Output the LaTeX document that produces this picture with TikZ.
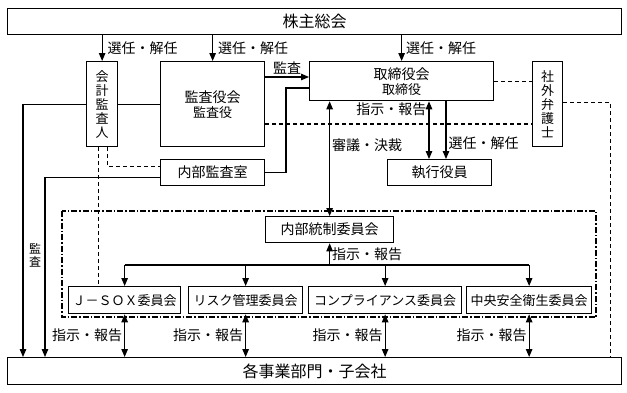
\documentclass[tikz,border=0pt]{standalone}
\usepackage{fontspec}
\setmainfont{Noto Sans CJK JP}
\usetikzlibrary{arrows.meta,positioning,calc}

\begin{document}
\begin{tikzpicture}[x=1pt, y=-1pt,
  box/.style={draw, line width=1.3pt, inner sep=0pt, anchor=north west,
    align=center, font=\fontsize{14}{15}\selectfont},
  vbox/.style={box, font=\fontsize{13}{14}\selectfont},
  cbox/.style={box, font=\fontsize{13}{15}\selectfont},
  conn/.style={line width=1.1pt},
  arr/.style={conn, -{Triangle[length=8pt,width=6.5pt]}},
  darr/.style={conn, {Triangle[length=8pt,width=6.5pt]}-{Triangle[length=8pt,width=6.5pt]}},
  dsh/.style={conn, dash pattern=on 4pt off 3pt},
  frame/.style={line width=1.1pt, dash pattern=on 6pt off 2pt on 1.5pt off 2pt},
  lbl/.style={inner sep=2pt, font=\fontsize{14}{15}\selectfont},
]
  \useasboundingbox (0,0) rectangle (627,392);

  % top and bottom bars
  \node[box, minimum width=614pt, minimum height=26pt,
    font=\fontsize{16}{18}\selectfont] (soukai) at (7,8) {株主総会};
  \node[box, minimum width=614pt, minimum height=27pt,
    font=\fontsize{16}{18}\selectfont] (jigyo) at (7,357) {各事業部門・子会社};

  % upper organs
  \node[vbox, minimum width=31pt, minimum height=85pt] (kaikei) at (86,61)
    {会\\計\\監\\査\\人};
  \node[box, minimum width=104pt, minimum height=85pt] (kansayaku) at (160,61)
    {監査役会\\{\fontsize{13}{15}\selectfont 監査役}};
  \node[box, minimum width=184pt, minimum height=39pt] (torishimari) at (309,61)
    {取締役会\\{\fontsize{13}{15}\selectfont 取締役}};
  \node[vbox, minimum width=30pt, minimum height=85pt] (bengoshi) at (532,61)
    {社\\外\\弁\\護\\士};
  \node[box, minimum width=104pt, minimum height=26pt] (naibukansa) at (160,159)
    {内部監査室};
  \node[box, minimum width=104pt, minimum height=26pt] (shikko) at (387,159)
    {執行役員};

  % internal control group
  \draw[frame] (62,211) rectangle (596,317);
  \node[box, minimum width=128pt, minimum height=26pt] (naibutosei) at (265,216)
    {内部統制委員会};
  \node[cbox, minimum width=112pt, minimum height=27pt] (jsox) at (68,286)
    {Ｊ－ＳＯＸ委員会};
  \node[cbox, minimum width=114pt, minimum height=27pt] (risk) at (188,286)
    {リスク管理委員会};
  \node[cbox, minimum width=153pt, minimum height=27pt] (comp) at (308,286)
    {コンプライアンス委員会};
  \node[cbox, minimum width=125pt, minimum height=27pt] (chuo) at (466,286)
    {中央安全衛生委員会};

  % helper coordinates
  \coordinate (kansaY) at (0,77);
  \coordinate (hokoku) at (286,88);
  \coordinate (dashY) at (0,124);
  \coordinate (shijiX) at (429,0);
  \coordinate (senninX) at (446,0);
  \coordinate (bus) at (0,265);

  % election by shareholders
  \draw[arr] (soukai.south -| kaikei) -- node[lbl, right, xshift=3pt] {選任・解任} (kaikei.north);
  \draw[arr] (soukai.south -| kansayaku) -- node[lbl, right, xshift=3pt] {選任・解任} (kansayaku.north);
  \draw[arr] (soukai.south -| torishimari) -- node[lbl, right, xshift=2pt] {選任・解任} (torishimari.north);

  % audit lines
  \draw[conn] (kaikei) -- (kansayaku);
  \draw[arr] (kaikei.west) -| ([xshift=16pt]jigyo.north west);
  \draw[arr] (kansayaku.east |- kansaY) -- node[lbl, above] {監査} (torishimari.west |- kansaY);
  \draw[conn] (naibukansa.east) -| (hokoku) -- (torishimari.west |- hokoku);
  \draw[arr] ([yshift=-5pt]naibukansa.west) -| ([xshift=38pt]jigyo.north west);
  \node[lbl, font=\fontsize{12}{13}\selectfont, align=center] (kansalbl) at (35,255) {監\\査};

  % dashed cooperation
  \draw[dsh] ([xshift=5pt]kaikei.south) |- ([yshift=6pt]naibukansa.west);
  \draw[dsh] ([xshift=-4pt]kaikei.south) -- ([xshift=-4pt]kaikei.south |- jsox.north);
  \draw[dsh] (kansayaku.east |- dashY) -- (bengoshi.west |- dashY);
  \draw[dsh] (torishimari.east) -- (torishimari.east -| bengoshi.west);
  \draw[dsh] ([yshift=2pt]bengoshi.east) -| ([xshift=-12pt]jigyo.north east);

  % board and officers
  \draw[darr] (torishimari.south -| shijiX) -- node[lbl, left, pos=0.13] {指示・報告} (shikko.north -| shijiX);
  \draw[arr] (torishimari.south -| senninX) -- node[lbl, right, pos=0.72] {選任・解任} (shikko.north -| senninX);
  \draw[darr] (naibutosei.north |- torishimari.south) -- node[lbl, right, pos=0.38] {審議・決裁} (naibutosei.north);

  % committees
  \draw[arr] (naibutosei.south |- bus) -- node[lbl, right] {指示・報告} (naibutosei.south);
  \draw[conn] (jsox.north |- bus) -- (chuo.north |- bus);
  \foreach \c in {jsox,risk,comp,chuo} {
    \draw[arr] (\c.north |- bus) -- (\c.north);
    \draw[darr] (\c.south) -- node[lbl, left] {指示・報告} (\c.south |- jigyo.north);
  }
\end{tikzpicture}
\end{document}
